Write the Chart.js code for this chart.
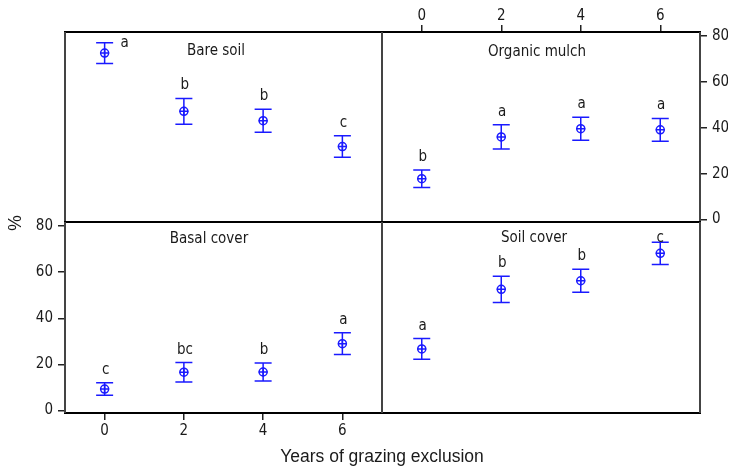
<!DOCTYPE html>
<html>
<head>
<meta charset="utf-8">
<script src="https://cdn.jsdelivr.net/npm/chart.js@4.4.1/dist/chart.umd.min.js"></script>
<style>
  body { margin: 0; background: #fff; }
  #wrap { position: relative; width: 732px; height: 466px; }
  #wrap canvas { position: absolute; left: 0; top: 0; }
</style>
</head>
<body>
<div id="wrap">
  <canvas id="bare" width="732" height="466"></canvas>
  <canvas id="mulch" width="732" height="466"></canvas>
  <canvas id="basal" width="732" height="466"></canvas>
  <canvas id="soil" width="732" height="466"></canvas>
</div>
<script>
// years since grazing was excluded
const years = [0, 2, 4, 6];
const yTicks = [0, 20, 40, 60, 80];

const bareSoil = [72.6, 47.2, 43.1, 31.8];
const bareSoilErr = [4.5, 5.6, 5.0, 4.7];
const bareSoilLetters = ["a", "b", "b", "c"];

const organicMulch = [17.8, 36.0, 39.6, 39.1];
const organicMulchErr = [3.8, 5.3, 5.0, 5.0];
const organicMulchLetters = ["b", "a", "a", "a"];

const basalCover = [9.3, 16.6, 16.7, 29.0];
const basalCoverErr = [2.7, 4.2, 3.9, 4.7];
const basalCoverLetters = ["c", "bc", "b", "a"];

const soilCover = [26.7, 52.6, 56.3, 68.2];
const soilCoverErr = [4.5, 5.7, 5.0, 4.8];
const soilCoverLetters = ["a", "b", "b", "c"];

const blue = "#1a1aff";
const ink = "#1a1a1a";
const family = '"DejaVu Sans Condensed", "DejaVu Sans", sans-serif';
const tickFont = { family: family, size: 15 };

function panelPlugin(p) {
  return {
    id: "panel",
    beforeDatasetsDraw(chart) {
      const ctx = chart.ctx, xs = chart.scales.x, ys = chart.scales.y;
      ctx.save();
      ctx.strokeStyle = blue;
      ctx.lineWidth = 1.5;
      years.forEach((yr, i) => {
        const x = xs.getPixelForValue(yr);
        const top = ys.getPixelForValue(p.values[i] + p.err[i]);
        const bot = ys.getPixelForValue(p.values[i] - p.err[i]);
        ctx.beginPath();
        ctx.moveTo(x, top); ctx.lineTo(x, bot);
        ctx.moveTo(x - 8.5, top); ctx.lineTo(x + 8.5, top);
        ctx.moveTo(x - 8.5, bot); ctx.lineTo(x + 8.5, bot);
        ctx.stroke();
      });
      ctx.restore();
    },
    afterDraw(chart) {
      const ctx = chart.ctx, a = chart.chartArea;
      const xs = chart.scales.x, ys = chart.scales.y;
      ctx.save();
      // panel frame
      ctx.lineWidth = 2;
      ctx.strokeStyle = "#000";
      ctx.beginPath();
      ctx.moveTo(a.left - 1, a.top); ctx.lineTo(a.right + 1, a.top);
      ctx.moveTo(a.left - 1, a.bottom); ctx.lineTo(a.right + 1, a.bottom);
      ctx.stroke();
      ctx.strokeStyle = "#444";
      ctx.beginPath();
      ctx.moveTo(a.left, a.top); ctx.lineTo(a.left, a.bottom);
      ctx.moveTo(a.right, a.top); ctx.lineTo(a.right, a.bottom);
      ctx.stroke();

      ctx.fillStyle = ink;
      ctx.font = "15px " + family;
      ctx.textAlign = "center";
      ctx.textBaseline = "alphabetic";
      ctx.fillText(p.title, a.left + p.titleDx, a.top + p.titleDy);

      years.forEach((yr, i) => {
        const x = xs.getPixelForValue(yr);
        const top = ys.getPixelForValue(p.values[i] + p.err[i]);
        const mode = p.labelMode[i];
        if (mode === "right") ctx.fillText(p.letters[i], x + 20, top + 4);
        else if (mode === "over") ctx.fillText(p.letters[i], x, top);
        else ctx.fillText(p.letters[i], x + 1, top - 9);
      });

      if (p.axisTitles) {
        ctx.font = '17.5px "Liberation Sans", Arial, sans-serif';
        ctx.fillText("Years of grazing exclusion", 382, 462);
        ctx.translate(21, 223);
        ctx.rotate(-Math.PI / 2);
        ctx.fillText("%", 0, 0);
      }
      ctx.restore();
    }
  };
}

function axisX(show, pos) {
  return {
    type: "linear", min: -1, max: 7, display: show, position: pos,
    afterBuildTicks: s => { s.ticks = years.map(v => ({ value: v })); },
    afterFit: s => { s.height = show ? 28 : 0; },
    ticks: { font: tickFont, color: ink, padding: pos === "top" ? 0 : 2 },
    grid: { drawOnChartArea: false, tickLength: 7, color: "#222", lineWidth: 1.5 },
    border: { display: false }
  };
}

function axisY(show, pos) {
  return {
    type: "linear", min: -1.1, max: 81.8, display: show, position: pos,
    afterBuildTicks: s => { s.ticks = yTicks.map(v => ({ value: v })); },
    afterFit: s => { s.width = show ? (pos === "left" ? 40 : 28) : 0; },
    ticks: { font: tickFont, color: ink, padding: 5 },
    grid: { drawOnChartArea: false, tickLength: 7, color: "#222", lineWidth: 1.5 },
    border: { display: false }
  };
}

function makePanel(id, p) {
  const pts = years.map((x, i) => ({ x: x, y: p.values[i] }));
  new Chart(document.getElementById(id), {
    type: "scatter",
    data: {
      datasets: [
        { data: pts, pointStyle: "circle", radius: 4, borderColor: blue, borderWidth: 1.5, backgroundColor: "rgba(0,0,0,0)" },
        { data: pts, pointStyle: "cross", radius: 4.5, borderColor: blue, borderWidth: 1.5 }
      ]
    },
    options: {
      responsive: false,
      animation: false,
      events: [],
      layout: { padding: p.padding },
      plugins: { legend: { display: false }, tooltip: { enabled: false } },
      scales: { x: axisX(p.showX, p.xPos), y: axisY(p.showY, p.yPos) }
    },
    plugins: [panelPlugin(p)]
  });
}

makePanel("bare", {
  values: bareSoil, err: bareSoilErr, letters: bareSoilLetters,
  labelMode: ["right", "above", "above", "above"],
  title: "Bare soil", titleDx: 151, titleDy: 23,
  showX: false, xPos: "bottom", showY: false, yPos: "left",
  padding: { left: 65, top: 32, right: 350, bottom: 244 }
});

makePanel("mulch", {
  values: organicMulch, err: organicMulchErr, letters: organicMulchLetters,
  labelMode: ["above", "above", "above", "above"],
  title: "Organic mulch", titleDx: 155, titleDy: 24,
  showX: true, xPos: "top", showY: true, yPos: "right",
  padding: { left: 382, top: 4, right: 4, bottom: 244 }
});

makePanel("basal", {
  values: basalCover, err: basalCoverErr, letters: basalCoverLetters,
  labelMode: ["above", "above", "above", "above"],
  title: "Basal cover", titleDx: 144, titleDy: 21,
  showX: true, xPos: "bottom", showY: true, yPos: "left",
  padding: { left: 25, top: 222, right: 350, bottom: 25 },
  axisTitles: true
});

makePanel("soil", {
  values: soilCover, err: soilCoverErr, letters: soilCoverLetters,
  labelMode: ["above", "above", "above", "over"],
  title: "Soil cover", titleDx: 152, titleDy: 20,
  showX: false, xPos: "bottom", showY: false, yPos: "left",
  padding: { left: 382, top: 222, right: 32, bottom: 53 }
});
</script>
</body>
</html>
